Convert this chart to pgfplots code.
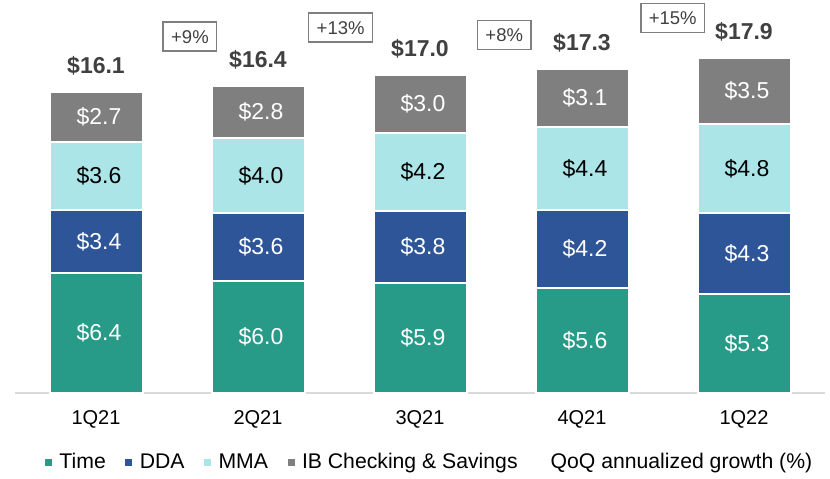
\documentclass[border=0pt]{standalone}
\usepackage{pgfplots}
\pgfplotsset{compat=1.18}
\usepackage{fontspec}
\setmainfont{Liberation Sans}
\definecolor{cTime}{HTML}{279A88}
\definecolor{cDDA}{HTML}{2E5597}
\definecolor{cMMA}{HTML}{ABE5E8}
\definecolor{cIB}{HTML}{7F7F7F}
\definecolor{txt}{HTML}{404040}
\begin{document}
\begin{tikzpicture}[x=1pt,y=1pt]
\path[use as bounding box] (0,0) rectangle (830,479);
\pgfplotsset{common/.style={at={(15pt,86pt)}, anchor=south west, width=810pt, height=393pt, scale only axis, xmin=-0.5, xmax=4.5, ymin=0, ymax=21, clip=false}}
\begin{axis}[common, ybar stacked, bar width=93pt,
  axis y line=none, axis x line*=bottom,
  x axis line style={draw=black!15, line width=2pt},
  xtick={0,1,2,3,4}, xticklabels={1Q21,2Q21,3Q21,4Q21,1Q22},
  major tick length=0pt,
  xticklabel style={anchor=center, yshift=-26pt, font=\fontsize{20}{24}\selectfont, text=black},
  legend columns=-1,
  legend image code/.code={\path[#1, draw=none] (0pt,-3.5pt) rectangle (7pt,3.5pt);},
  legend style={at={(0.037,-0.1756)}, anchor=west, draw=none, fill=none, inner sep=0pt, outer sep=0pt,
    font=\fontsize{21.2}{24}\selectfont, nodes={inner sep=0pt, text=black},
    /tikz/every odd column/.append style={column sep=7.5pt},
    /tikz/every even column/.append style={column sep=19.5pt}},
]
\addplot[fill=cTime, draw=white, line width=2pt] coordinates {(0,6.4) (1,6.0) (2,5.9) (3,5.6) (4,5.3)};
\addlegendentry{Time}
\addplot[fill=cDDA, draw=white, line width=2pt] coordinates {(0,3.4) (1,3.6) (2,3.8) (3,4.2) (4,4.3)};
\addlegendentry{DDA}
\addplot[fill=cMMA, draw=white, line width=2pt] coordinates {(0,3.6) (1,4.0) (2,4.2) (3,4.4) (4,4.8)};
\addlegendentry{MMA}
\addplot[fill=cIB, draw=white, line width=2pt] coordinates {(0,2.7) (1,2.8) (2,3.1) (3,3.1) (4,3.5)};
\addlegendentry{IB Checking \& Savings}
\addlegendimage{empty legend}
\addlegendentry{\hspace{6pt}QoQ annualized growth (\%)}
\end{axis}
\begin{axis}[common, axis lines=none, xtick=\empty, ytick=\empty]
% segment labels (white)
\addplot[draw=none, mark=none, nodes near coords, point meta=explicit symbolic,
  nodes near coords style={anchor=center, xshift=3pt, font=\fontsize{23}{26}\selectfont, text=white}]
  coordinates {(0,3.2)[\$6.4] (1,3.0)[\$6.0] (2,2.95)[\$5.9] (3,2.8)[\$5.6] (4,2.65)[\$5.3]
    (0,8.1)[\$3.4] (1,7.8)[\$3.6] (2,7.8)[\$3.8] (3,7.7)[\$4.2] (4,7.45)[\$4.3]
    (0,14.75)[\$2.7] (1,15.0)[\$2.8] (2,15.45)[\$3.0] (3,15.75)[\$3.1] (4,16.15)[\$3.5]};
% MMA labels (black)
\addplot[draw=none, mark=none, nodes near coords, point meta=explicit symbolic,
  nodes near coords style={anchor=center, xshift=3pt, font=\fontsize{23}{26}\selectfont, text=black}]
  coordinates {(0,11.6)[\$3.6] (1,11.6)[\$4.0] (2,11.8)[\$4.2] (3,12.0)[\$4.4] (4,12.0)[\$4.8]};
% totals
\addplot[draw=none, mark=none, nodes near coords, point meta=explicit symbolic,
  nodes near coords style={anchor=center, yshift=26pt, font=\bfseries\fontsize{23}{26}\selectfont, text=txt}]
  coordinates {(0,16.1)[\$16.1] (1,16.4)[\$16.4] (2,17.0)[\$17.0] (3,17.3)[\$17.3] (4,17.9)[\$17.9]};
% growth boxes
\addplot[draw=none, mark=none, nodes near coords, point meta=explicit symbolic,
  nodes near coords style={anchor=center, draw=cIB, line width=1.5pt, inner xsep=8pt, minimum height=29pt, font=\fontsize{18.5}{22}\selectfont, text=txt}]
  coordinates {(0.58,19.04)[+9\%] (1.51,19.52)[+13\%] (2.52,19.14)[+8\%] (3.56,20.05)[+15\%]};
\end{axis}
\end{tikzpicture}
\end{document}
